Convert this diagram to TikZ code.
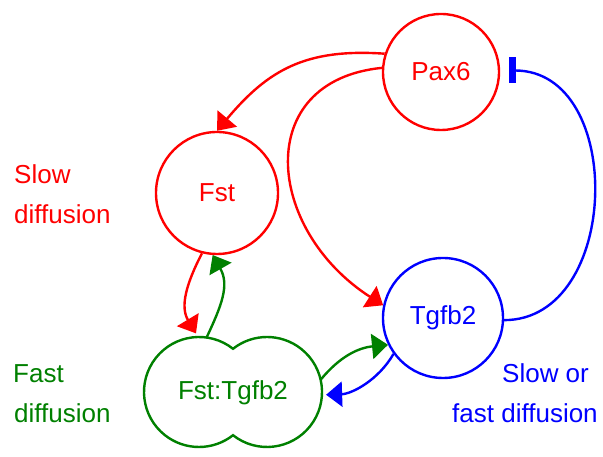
\documentclass[tikz,border=0pt]{standalone}
\usepackage{fontspec}
\setmainfont{Liberation Sans}
\usetikzlibrary{arrows.meta}
\definecolor{cred}{RGB}{255,0,0}
\definecolor{cgreen}{RGB}{0,128,0}
\definecolor{cblue}{RGB}{0,0,255}
\begin{document}
\begin{tikzpicture}[x=1pt,y=1pt,
  every node/.style={font=\fontsize{26}{31}\selectfont},
  species/.style={circle, draw, line width=2.4pt, inner sep=0pt},
  lobe/.style={circle, inner sep=0pt, minimum size=110pt},
  link/.style={line width=2.4pt},
  act/.style={link, -{Triangle[length=16pt,width=25pt]}},
  inh/.style={link, -{Rectangle[length=7pt,width=26pt]}},
  lbl/.style={anchor=base west, inner sep=0pt}]
\useasboundingbox (0,0) rectangle (603,457);

% species
\node[species, cred, text=cred, minimum size=116pt] (pax) at (441,385) {Pax6};
\node[species, cred, text=cred, minimum size=122pt] (fst) at (217,264) {Fst};
\node[species, cblue, text=cblue, minimum size=120pt] (tgf) at (443,139) {Tgfb2};

% complex: outline of two overlapping lobes
\node[lobe] (cl) at (199,65) {};
\node[lobe] (cr) at (267,65) {};
\draw[cgreen, line width=2.4pt]
  ([shift={(51.8:55pt)}]cl.center)
    arc[start angle=51.8, end angle=308.2, radius=55pt]
    arc[start angle=231.8, end angle=488.2, radius=55pt] -- cycle;
\node[text=cgreen] (cx) at (233,64) {Fst:Tgfb2};

% interactions
\draw[act, cred] (pax.162) to[out=176, in=50, looseness=1.1] (fst.90);
\draw[act, cred] (pax.176) .. controls +(-130,-13) and +(-118,76) .. (tgf.168);
\draw[inh, cblue] (tgf.-2) .. controls +(117,0) and +(117,0) .. ([shift={(9,1.5)}]pax.east);
\draw[act, cred, shorten >=4pt] (fst.-104) .. controls +(-16,-31) and +(-18,30) .. (cl.91);
\draw[act, cgreen] (cl.82) .. controls +(15,32) and +(17,-30) .. (fst.-94);
\draw[act, cgreen] (cr.13) .. controls +(19,23) and +(-30,-3) .. (tgf.206);
\draw[act, cblue, shorten >=4pt] (tgf.216) .. controls +(-15,-26) and +(30,1) .. (cr.-3);

% diffusion labels
\node[lbl, text=cred] (slowA) at (14,273) {Slow};
\node[lbl, text=cred] (slowB) at (14,233) {diffusion};
\node[lbl, text=cgreen] (fastA) at (13,74) {Fast};
\node[lbl, text=cgreen] (fastB) at (14,34) {diffusion};
\node[lbl, text=cblue] (eitherA) at (502,74) {Slow or};
\node[lbl, text=cblue] (eitherB) at (452,34) {fast diffusion};
\end{tikzpicture}
\end{document}
